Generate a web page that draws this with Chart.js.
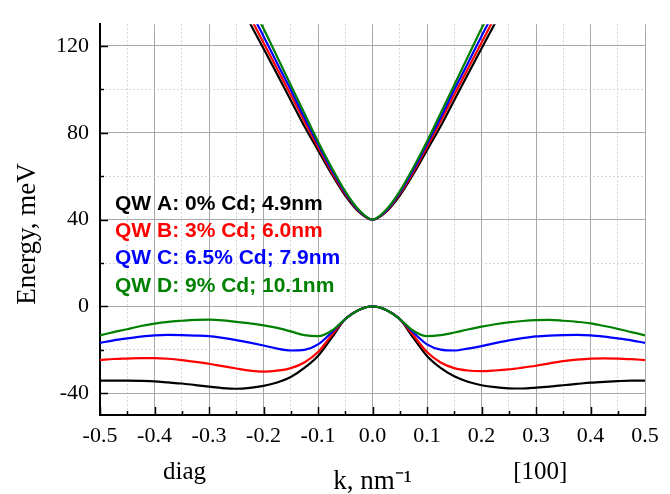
<!DOCTYPE html>
<html>
<head>
<meta charset="utf-8">
<script src="https://cdn.jsdelivr.net/npm/chart.js@4.4.1/dist/chart.umd.min.js"></script>
<style>
  html, body { margin: 0; padding: 0; background: #fff; }
</style>
</head>
<body>
<canvas id="chart" width="670" height="494"></canvas>
<script>
// k grid, nm^-1 (left half = diag, right half = [100])
const kValues = [-0.5, -0.475, -0.45, -0.425, -0.4, -0.375, -0.35, -0.325, -0.3, -0.275,
  -0.25, -0.225, -0.2, -0.175, -0.15, -0.125, -0.1, -0.075, -0.05, -0.025, 0,
  0.025, 0.05, 0.075, 0.1, 0.125, 0.15, 0.175, 0.2, 0.225, 0.25,
  0.275, 0.3, 0.325, 0.35, 0.375, 0.4, 0.425, 0.45, 0.475, 0.5];

const seriesNames = ["QW A: 0% Cd; 4.9nm", "QW B: 3% Cd; 6.0nm", "QW C: 6.5% Cd; 7.9nm", "QW D: 9% Cd; 10.1nm"];
const seriesColors = ["#000000", "#ff0000", "#0000ff", "#008000"];

// conduction band, meV (null = outside plotted range)
const cbA = [null, null, null, null, null, null, null, null, null, null,
  142, 130.5, 118.8, 107, 95, 83, 72, 61, 51, 43.5, 40, 43.5, 51, 61, 72, 83, 95, 107, 118.8, 130.5, 142,
  null, null, null, null, null, null, null, null, null, null];
const cbB = [null, null, null, null, null, null, null, null, null, null,
  145.5, 133.5, 121.5, 109.5, 97.5, 85.3, 73.5, 62, 51.8, 43.8, 40, 43.8, 51.8, 62, 73.5, 85.3, 97.5, 109.5, 121.5, 133.5, 145.5,
  null, null, null, null, null, null, null, null, null, null];
const cbC = [null, null, null, null, null, null, null, null, null, null,
  148.5, 136.5, 124.5, 112, 99.8, 87, 74.8, 63, 52.4, 44.1, 40, 44.1, 52.4, 63, 74.8, 87, 99.8, 112, 124.5, 136.5, 148.5,
  null, null, null, null, null, null, null, null, null, null];
const cbD = [null, null, null, null, null, null, null, null, null, null,
  152, 140, 128, 115, 102, 89, 76, 64, 53, 44.5, 40, 44.5, 53, 64, 76, 89, 102, 115, 128, 140, 152,
  null, null, null, null, null, null, null, null, null, null];

// valence band, meV
const vbA = [-34.2, -34.2, -34.2, -34.3, -34.5, -35.0, -35.5, -36.2, -36.9, -37.6,
  -37.9, -37.5, -36.6, -35.0, -32.5, -28.3, -22.8, -14.5, -5.8, -1.6, 0,
  -1.6, -5.8, -14.5, -22.8, -28.3, -32.2, -34.7, -36.3, -37.2, -37.7,
  -37.8, -37.4, -36.9, -36.3, -35.7, -35.1, -34.7, -34.4, -34.2, -34.2];
const vbB = [-24.7, -24.2, -24.0, -23.8, -23.8, -24.1, -24.7, -25.5, -26.4, -27.5,
  -28.6, -29.6, -30.0, -29.6, -28.4, -25.8, -21.0, -13.3, -5.8, -1.6, 0,
  -1.6, -5.8, -13.3, -21.0, -25.8, -28.4, -29.5, -29.8, -29.5, -29.0,
  -28.2, -27.3, -26.2, -25.2, -24.5, -24.0, -23.9, -24.0, -24.3, -24.7];
const vbC = [-16.8, -15.6, -14.7, -13.9, -13.3, -13.1, -13.2, -13.4, -13.7, -14.5,
  -15.5, -16.7, -18.0, -19.4, -20.3, -20.0, -17.5, -12.0, -5.8, -1.6, 0,
  -1.6, -5.8, -12.0, -17.5, -19.9, -20.3, -19.4, -18.3, -16.9, -15.6,
  -14.6, -13.8, -13.4, -13.2, -13.1, -13.3, -13.9, -14.7, -15.6, -16.8];
const vbD = [-13.3, -11.8, -10.5, -9.0, -7.9, -7.1, -6.6, -6.2, -6.1, -6.4,
  -7.1, -7.8, -8.7, -9.9, -11.5, -13.2, -13.7, -11.2, -5.8, -1.6, 0,
  -1.6, -5.8, -11.2, -13.7, -13.2, -12.0, -10.6, -9.3, -8.2, -7.3,
  -6.7, -6.3, -6.2, -6.6, -7.1, -7.8, -9.0, -10.3, -11.8, -13.3];

const xTickValues = [-0.5, -0.45, -0.4, -0.35, -0.3, -0.25, -0.2, -0.15, -0.1, -0.05, 0,
  0.05, 0.1, 0.15, 0.2, 0.25, 0.3, 0.35, 0.4, 0.45, 0.5];
const yTickValues = [-40, -20, 0, 20, 40, 60, 80, 100, 120];
const directionLabels = [{ k: -0.345, text: "diag" }, { k: 0.308, text: "[100]" }];

const conduction = [cbA, cbB, cbC, cbD];
const valence = [vbA, vbB, vbC, vbD];

const isMajorX = v => Math.abs(v * 10 - Math.round(v * 10)) < 1e-6;
const isMajorY = v => v % 40 === 0;
const serif = "'Liberation Serif', 'Times New Roman', serif";

const datasets = [];
seriesNames.forEach((name, i) => {
  [conduction[i], valence[i]].forEach(vals => {
    datasets.push({
      label: name,
      data: kValues.map((k, j) => ({ x: k, y: vals[j] })),
      borderColor: seriesColors[i],
      borderWidth: 2.2,
      pointRadius: 0,
      cubicInterpolationMode: "monotone",
      spanGaps: false,
      fill: false,
      clip: 0,
      order: seriesNames.length - i
    });
  });
});

// inward tick marks, side labels, legend text
const decorPlugin = {
  id: "decor",
  afterDatasetsDraw(chart) {
    const { ctx, scales: { x, y }, chartArea } = chart;
    ctx.save();
    ctx.strokeStyle = "#000";
    ctx.lineWidth = 1.5;
    xTickValues.forEach(v => {
      const px = Math.round(x.getPixelForValue(v)) + 0.5;
      const len = isMajorX(v) ? 8 : 4;
      ctx.beginPath();
      ctx.moveTo(px, chartArea.bottom);
      ctx.lineTo(px, chartArea.bottom - len);
      ctx.stroke();
    });
    yTickValues.forEach(v => {
      const py = Math.round(y.getPixelForValue(v)) + 0.5;
      const len = isMajorY(v) ? 8 : 4;
      ctx.beginPath();
      ctx.moveTo(chartArea.left, py);
      ctx.lineTo(chartArea.left + len, py);
      ctx.stroke();
    });

    // legend block
    ctx.font = "bold 21px 'Liberation Sans', Arial, sans-serif";
    ctx.textBaseline = "middle";
    ctx.textAlign = "left";
    seriesNames.forEach((name, i) => {
      ctx.fillStyle = seriesColors[i];
      ctx.fillText(name, chartArea.left + 15, 204 + i * 27.3);
    });

    // direction labels under the axis
    ctx.fillStyle = "#000";
    ctx.font = "25px " + serif;
    ctx.textAlign = "center";
    directionLabels.forEach(d => {
      ctx.fillText(d.text, x.getPixelForValue(d.k), 472);
    });

    // y title
    ctx.font = "27px " + serif;
    ctx.translate(28, 234);
    ctx.rotate(-Math.PI / 2);
    ctx.fillText("Energy, meV", 0, 0);
    ctx.restore();
  }
};

new Chart(document.getElementById("chart"), {
  type: "line",
  data: { datasets },
  plugins: [decorPlugin],
  options: {
    responsive: false,
    animation: false,
    devicePixelRatio: 1,
    layout: { padding: { top: 14, right: 25, bottom: 0, left: 0 } },
    plugins: { legend: { display: false }, tooltip: { enabled: false } },
    scales: {
      x: {
        type: "linear",
        min: -0.5,
        max: 0.5,
        afterFit: s => { s.height = 79; },
        afterBuildTicks: s => { s.ticks = xTickValues.map(v => ({ value: v })); },
        grid: {
          drawTicks: false,
          color: c => (c.tick && isMajorX(c.tick.value)) ? "#a8a8a8" : "#d4d4d4",
          lineWidth: 1
        },
        border: {
          display: true, color: "#000", width: 2,
          dash: c => (c.tick && !isMajorX(c.tick.value)) ? [2, 2] : []
        },
        ticks: {
          autoSkip: false,
          maxRotation: 0,
          padding: 8,
          color: "#000",
          font: { family: serif, size: 22 },
          callback: v => isMajorX(v) ? v.toFixed(1) : ""
        },
        title: {
          display: true,
          text: "k, nm⁻¹",
          color: "#000",
          font: { family: serif, size: 27, lineHeight: 0.9 },
          padding: 0
        }
      },
      y: {
        min: -50,
        max: 130,
        afterFit: s => { s.width = 100; },
        afterBuildTicks: s => { s.ticks = yTickValues.map(v => ({ value: v })); },
        grid: {
          drawTicks: false,
          color: c => (c.tick && isMajorY(c.tick.value)) ? "#a8a8a8" : "#d4d4d4",
          lineWidth: 1
        },
        border: {
          display: true, color: "#000", width: 2,
          dash: c => (c.tick && !isMajorY(c.tick.value)) ? [2, 2] : []
        },
        ticks: {
          autoSkip: false,
          padding: 11,
          color: "#000",
          font: { family: serif, size: 22 },
          callback: v => isMajorY(v) ? String(v) : ""
        }
      }
    }
  }
});
</script>
</body>
</html>
